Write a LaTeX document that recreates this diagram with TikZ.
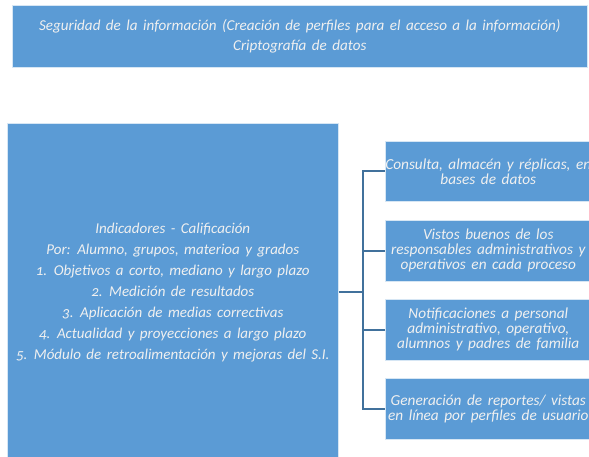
\documentclass[tikz,border=0pt]{standalone}
\usepackage{fontspec}
\setmainfont{Carlito}[Numbers=OldStyle, WordSpace=1.6]
\usetikzlibrary{positioning}

\definecolor{cajaazul}{HTML}{5B9BD5}
\definecolor{lineaazul}{HTML}{41719C}

\tikzset{
    caja/.style={fill=cajaazul, draw=white!75!cajaazul, line width=0.6pt,
        text=white!94!black, font=\itshape\fontsize{15.3}{15}\selectfont,
        align=center, inner sep=0pt, anchor=north west},
    rama/.style={draw=lineaazul, line width=2pt}
}

\begin{document}
\begin{tikzpicture}[x=1pt,y=-1pt]
    \useasboundingbox (0,0) rectangle (589,457);

    % cabecera
    \node[caja, minimum width=575, minimum height=62, font=\itshape\fontsize{15.1}{20}\selectfont] (seg) at (12,5)
        {Seguridad de la información (Creación de perfiles para el acceso a la información)\\
         Criptografía de datos};

    % indicadores
    \node[caja, minimum width=331, minimum height=338, font=\itshape\fontsize{15}{21}\selectfont] (ind) at (7,123)
        {Indicadores - Calificación\\
         Por: Alumno, grupos, materioa y grados\\
         1. Objetivos a corto, mediano y largo plazo\\
         2. Medición de resultados\\
         3. Aplicación de medias correctivas\\
         4. Actualidad y proyecciones a largo plazo\\
         5. Módulo de retroalimentación y mejoras del S.I.};

    % ramas
    \node[caja, minimum width=206, minimum height=60] (con) at (385,141)
        {Consulta, almacén y réplicas, en\\ bases de datos};
    \node[caja, minimum width=206, minimum height=61] (vis) at (385,220)
        {Vistos buenos de los\\ responsables administrativos y\\ operativos en cada proceso};
    \node[caja, minimum width=206, minimum height=61] (not) at (385,299)
        {Notificaciones a personal\\ administrativo, operativo,\\ alumnos y padres de familia};
    \node[caja, minimum width=206, minimum height=61] (gen) at (385,378)
        {Generación de reportes/ vistas\\ en línea por perfiles de usuario};

    \coordinate (eje) at (363,292);
    \draw[rama] (ind.east) -- (ind.east -| eje);
    \draw[rama] (con.west) -- (con.west -| eje) |- (gen.west);
    \draw[rama] (vis.west) -- (vis.west -| eje);
    \draw[rama] (not.west) -- (not.west -| eje);
\end{tikzpicture}
\end{document}
